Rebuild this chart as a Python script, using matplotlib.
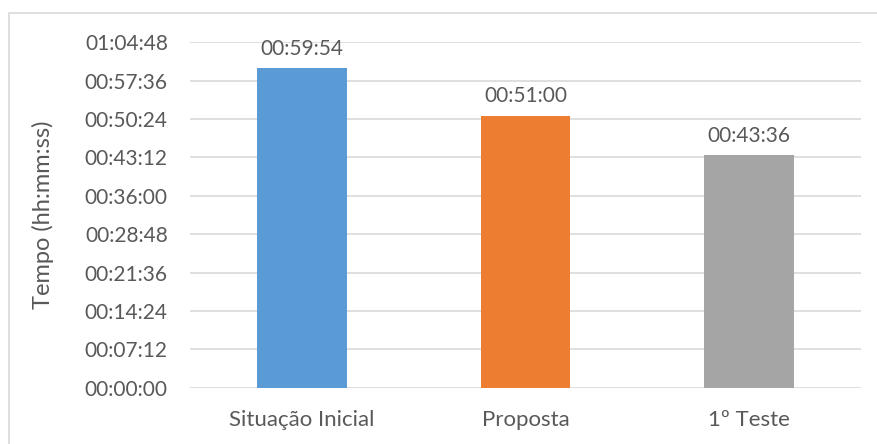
import matplotlib.pyplot as plt
from matplotlib.patches import Rectangle
from matplotlib.ticker import FixedLocator, FuncFormatter

categories = ['Situação Inicial', 'Proposta', '1º Teste']
durations = ['00:59:54', '00:51:00', '00:43:36']
colors = ['#5b9bd5', '#ed7d31', '#a5a5a5']
ylabel = 'Tempo (hh:mm:ss)'


def to_seconds(txt):
    h, m, s = map(int, txt.split(':'))
    return h * 3600 + m * 60 + s


def fmt_hms(sec, pos=None):
    sec = int(round(sec))
    return f"{sec // 3600:02d}:{(sec % 3600) // 60:02d}:{sec % 60:02d}"


values = [to_seconds(d) for d in durations]
step = to_seconds('00:07:12')
top = to_seconds('01:04:48')

plt.rcParams['font.family'] = ['Lato', 'DejaVu Sans']
text_color = '#595959'

W, H = 877, 444
fig = plt.figure(figsize=(W / 100, H / 100), dpi=100)
ax = fig.add_axes([190 / W, 1 - 387.7 / H, 671 / W, (387.7 - 42.3) / H])

x = range(len(categories))
bars = ax.bar(x, values, width=0.4, color=colors, zorder=3)
ax.set_xlim(-0.5, len(categories) - 0.5)
ax.set_ylim(0, top)

ax.yaxis.set_major_locator(FixedLocator(list(range(0, top + 1, step))))
ax.yaxis.set_major_formatter(FuncFormatter(fmt_hms))
ax.grid(axis='y', color='#d9d9d9', linewidth=1.2, zorder=0)
for s in ax.spines.values():
    s.set_visible(False)
ax.tick_params(axis='y', length=0, labelsize=15, colors=text_color, pad=16)
ax.tick_params(axis='x', length=0, labelsize=16, colors=text_color, pad=16)
ax.set_xticks(list(x))
ax.set_xticklabels(categories)
ax.set_ylabel(ylabel, fontsize=17, color=text_color, labelpad=22)

for b, lbl in zip(bars, durations):
    ax.annotate(lbl, (b.get_x() + b.get_width() / 2, b.get_height()),
                xytext=(0, 7), textcoords='offset points',
                ha='center', va='bottom', fontsize=15, color=text_color)

# light frame around the chart area
fig.patches.append(Rectangle((9 / W, -0.1), 1.1, 1.1 - 13 / H,
                             transform=fig.transFigure, fill=False,
                             edgecolor='#d9d9d9', linewidth=1.2))

fig.savefig('out.png', dpi=100)
